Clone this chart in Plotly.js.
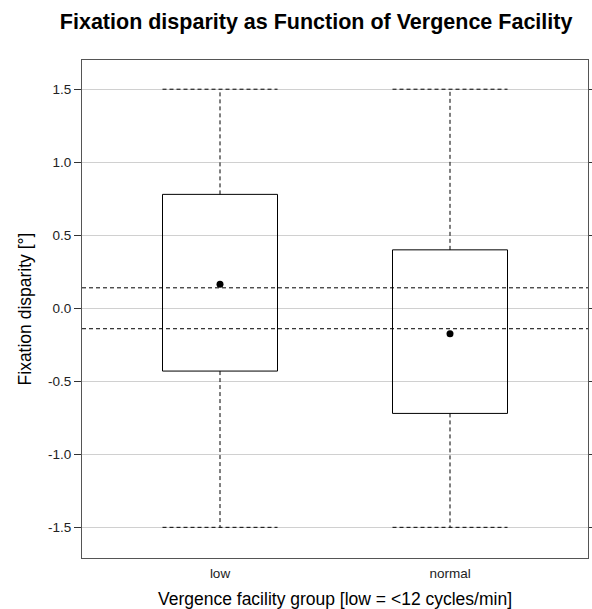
<!DOCTYPE html>
<html>
<head>
<meta charset="utf-8">
<script src="https://cdn.plot.ly/plotly-3.0.1.min.js"></script>
<style>html,body{margin:0;padding:0;background:#fff;}#chart{width:592px;height:609px;}</style>
</head>
<body>
<div id="chart"></div>
<script>
// ---- data ----
const groups = ["low", "normal"];
const groupPos = [0, 1];
const q1 = [-0.43, -0.72];
const q3 = [0.78, 0.40];
const centerDot = [0.165, -0.175];
const whiskerLow = [-1.5, -1.5];
const whiskerHigh = [1.5, 1.5];
const refLines = [0.14, -0.14];
const yTicks = [-1.5, -1.0, -0.5, 0.0, 0.5, 1.0, 1.5];
const yTickText = ["-1.5", "-1.0", "-0.5", "0.0", "0.5", "1.0", "1.5"];

const halfW = 0.25;
const traces = [];
groups.forEach((g, i) => {
  const c = groupPos[i];
  // box rectangle
  traces.push({
    type: "scatter", mode: "lines", hoverinfo: "skip", showlegend: false,
    x: [c - halfW, c + halfW, c + halfW, c - halfW, c - halfW],
    y: [q1[i], q1[i], q3[i], q3[i], q1[i]],
    line: { color: "#000", width: 1 }
  });
  // whiskers (vertical, dashed)
  traces.push({
    type: "scatter", mode: "lines", hoverinfo: "skip", showlegend: false,
    x: [c, c, null, c, c],
    y: [q3[i], whiskerHigh[i], null, q1[i], whiskerLow[i]],
    line: { color: "#000", width: 1, dash: "4px,3px" }
  });
  // caps (horizontal, dashed)
  traces.push({
    type: "scatter", mode: "lines", hoverinfo: "skip", showlegend: false,
    x: [c - halfW, c + halfW, null, c - halfW, c + halfW],
    y: [whiskerHigh[i], whiskerHigh[i], null, whiskerLow[i], whiskerLow[i]],
    line: { color: "#000", width: 1, dash: "4px,3px" }
  });
});
// centre dots
traces.push({
  type: "scatter", mode: "markers", showlegend: false,
  x: groupPos, y: centerDot,
  marker: { color: "#000", size: 7 }
});

const shapes = refLines.map(v => ({
  type: "line", xref: "paper", yref: "y", x0: 0, x1: 1, y0: v, y1: v,
  line: { color: "#000", width: 1, dash: "4px,3px" }
}));

const layout = {
  width: 592, height: 609,
  margin: { l: 82, r: 4, t: 60, b: 51 },
  paper_bgcolor: "#fff", plot_bgcolor: "#fff",
  font: { family: "Liberation Sans, Arial, sans-serif", color: "#222", size: 13 },
  showlegend: false,
  title: {
    text: "<b>Fixation disparity as Function of Vergence Facility</b>",
    font: { size: 21.5, color: "#000" },
    x: 0.534, xanchor: "center", y: 0.965, yanchor: "middle"
  },
  xaxis: {
    range: [-0.6, 1.6],
    tickvals: groupPos, ticktext: groups,
    ticks: "outside", ticklen: 3, tickcolor: "rgba(0,0,0,0)",
    showgrid: false, zeroline: false,
    showline: true, mirror: true, linecolor: "#555", linewidth: 1,
    tickfont: { size: 13.5, color: "#222" },
    title: { text: "Vergence facility group [low = <12 cycles/min]", font: { size: 17.5, color: "#000" }, standoff: 13 }
  },
  yaxis: {
    range: [-1.71, 1.70],
    tickvals: yTicks, ticktext: yTickText,
    ticks: "outside", ticklen: 7, tickcolor: "#333", tickwidth: 1,
    showgrid: true, gridcolor: "#d0d0d0", gridwidth: 1, zeroline: false,
    showline: true, mirror: "allticks", linecolor: "#555", linewidth: 1,
    tickfont: { size: 13.5, color: "#222" },
    title: { text: "Fixation disparity [°]", font: { size: 17.5, color: "#000" }, standoff: 11 }
  },
  shapes: shapes
};

Plotly.newPlot("chart", traces, layout, { staticPlot: true, displayModeBar: false });
</script>
</body>
</html>
